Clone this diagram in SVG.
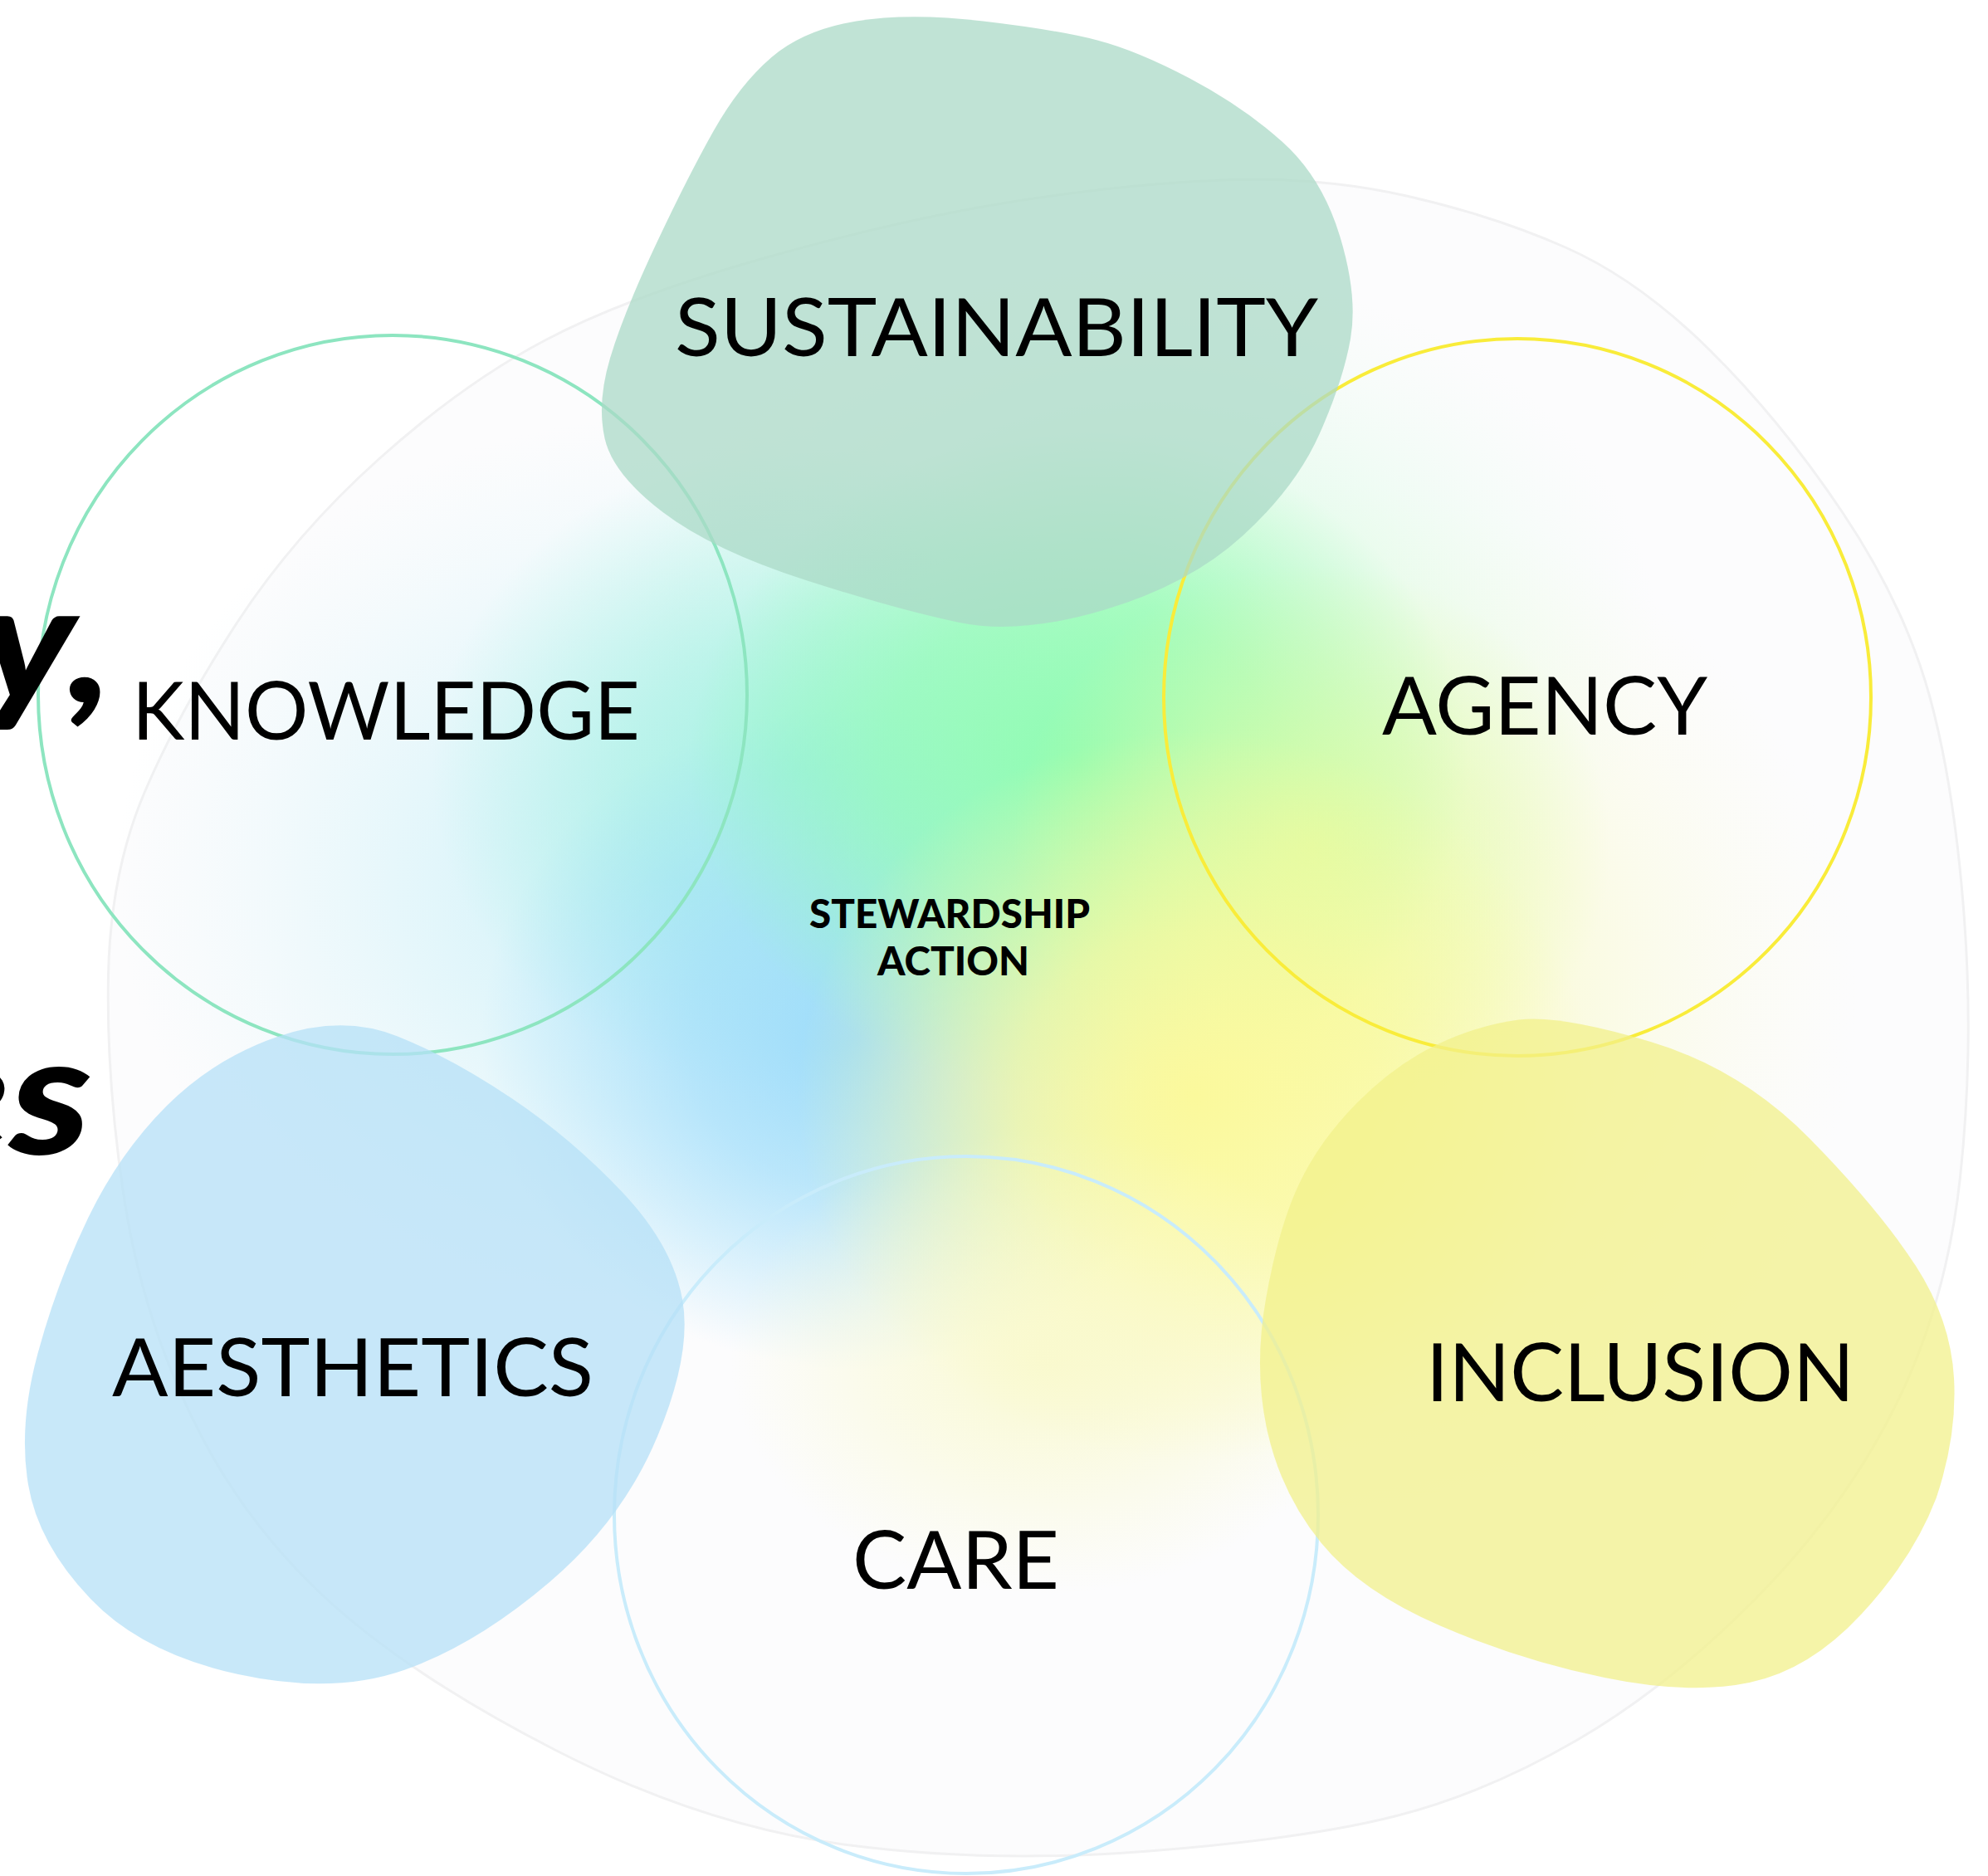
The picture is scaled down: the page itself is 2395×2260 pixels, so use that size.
<svg xmlns="http://www.w3.org/2000/svg" width="2395" height="2260" viewBox="0 0 2395 2260">
<style>
.lbl{font-family:"Lato","Liberation Sans",sans-serif;font-weight:400;font-size:96px;fill:#000}
.ctr{font-family:"Lato","Inter","Liberation Sans",sans-serif;font-weight:900;font-size:48px;fill:#000}
.big{font-family:"Lato","Inter","Liberation Sans",sans-serif;font-weight:900;font-style:italic;font-size:200px;fill:#000}
.ring{fill:none;stroke-width:4}
.blob{opacity:0.75}
</style>
<defs>
<radialGradient id="gSoftC"><stop offset="0" stop-color="#b4ebf6" stop-opacity="0.75"/><stop offset="0.5" stop-color="#c4eff8" stop-opacity="0.4"/><stop offset="1" stop-color="#d8f4fa" stop-opacity="0"/></radialGradient>
<radialGradient id="gSoftY"><stop offset="0" stop-color="#f8f9a8" stop-opacity="0.75"/><stop offset="0.5" stop-color="#f8f9b8" stop-opacity="0.4"/><stop offset="1" stop-color="#fafbd8" stop-opacity="0"/></radialGradient>
<radialGradient id="gSoftG"><stop offset="0" stop-color="#b6fbc8" stop-opacity="0.7"/><stop offset="0.5" stop-color="#c8fbd8" stop-opacity="0.35"/><stop offset="1" stop-color="#e0fbe8" stop-opacity="0"/></radialGradient>
<radialGradient id="gCyan"><stop offset="0" stop-color="#a6f2e2" stop-opacity="1"/><stop offset="0.45" stop-color="#a6f2e2" stop-opacity="0.6"/><stop offset="1" stop-color="#a6f2e2" stop-opacity="0"/></radialGradient>
<radialGradient id="gBlue"><stop offset="0" stop-color="#9ddcfb" stop-opacity="1"/><stop offset="0.45" stop-color="#9ddcfb" stop-opacity="0.65"/><stop offset="1" stop-color="#9ddcfb" stop-opacity="0"/></radialGradient>
<radialGradient id="gGreen"><stop offset="0" stop-color="#8ffcb2" stop-opacity="1"/><stop offset="0.5" stop-color="#8ffcb2" stop-opacity="0.65"/><stop offset="1" stop-color="#8ffcb2" stop-opacity="0"/></radialGradient>
<radialGradient id="gYG"><stop offset="0" stop-color="#e0fca0" stop-opacity="0.9"/><stop offset="1" stop-color="#e0fca0" stop-opacity="0"/></radialGradient>
<radialGradient id="gYellow"><stop offset="0" stop-color="#fbf99c" stop-opacity="1"/><stop offset="0.45" stop-color="#fbf99c" stop-opacity="0.7"/><stop offset="1" stop-color="#fbf99c" stop-opacity="0"/></radialGradient>
<radialGradient id="gPale"><stop offset="0" stop-color="#f9f9cc" stop-opacity="0.9"/><stop offset="1" stop-color="#f9f9cc" stop-opacity="0"/></radialGradient>
</defs>
<rect width="2395" height="2260" fill="#ffffff"/>
<g id="background">
<path d="M 1469.5,217 Q 1589,212 1694.5,236 Q 1800,260 1887,298.5 Q 1974,337 2060,422 Q 2146,507 2220.5,618.5 Q 2295,730 2325,840 Q 2355,950 2366.5,1107.5 Q 2378,1265 2361.5,1418 Q 2345,1571 2282.5,1695.5 Q 2220,1820 2114.5,1926.5 Q 2009,2033 1899.5,2096.5 Q 1790,2160 1682.5,2187.5 Q 1575,2215 1384,2230 Q 1193,2245 1020.5,2222.5 Q 848,2200 669.5,2108.5 Q 491,2017 390.5,1923.5 Q 290,1830 230,1705 Q 170,1580 149,1440 Q 128,1300 130.5,1175 Q 133,1050 175,952.5 Q 217,855 286,749.5 Q 355,644 457,552.5 Q 559,461 658.5,409 Q 758,357 920.5,311 Q 1083,265 1216.5,243.5 Q 1350,222 1469.5,217 Z" fill="#fcfcfd" stroke="#f1f1f2" stroke-width="3"/>
</g>
<g id="center-glow">
<ellipse cx="820" cy="1060" rx="680" ry="560" fill="url(#gSoftC)"/>
<ellipse cx="1560" cy="1200" rx="680" ry="620" fill="url(#gSoftY)"/>
<ellipse cx="1380" cy="780" rx="620" ry="460" fill="url(#gSoftG)"/>
<ellipse cx="960" cy="930" rx="440" ry="390" fill="url(#gCyan)"/>
<ellipse cx="1030" cy="1250" rx="450" ry="400" fill="url(#gBlue)"/>
<ellipse cx="1300" cy="920" rx="470" ry="400" fill="url(#gGreen)"/>
<ellipse cx="1580" cy="1020" rx="360" ry="340" fill="url(#gYG)"/>
<ellipse cx="1440" cy="1320" rx="480" ry="440" fill="url(#gYellow)"/>
<ellipse cx="1260" cy="1640" rx="380" ry="280" fill="url(#gPale)"/>
</g>
<g id="rings">
<ellipse id="ring-knowledge" class="ring" cx="473" cy="837" rx="427" ry="433" stroke="#8de5c0"/>
<ellipse id="ring-agency" class="ring" cx="1828" cy="840" rx="426" ry="432" stroke="#f9ec3a"/>
<ellipse id="ring-care" class="ring" cx="1164" cy="1825" rx="424" ry="432" stroke="#c9ecfb"/>
</g>
<g id="blobs">
<path id="blob-sustainability" class="blob" fill="#abdac7" d="M 1031.5,25.5 Q 1095,15 1184.5,25.5 Q 1274,36 1322,48.5 Q 1370,61 1433.5,94.5 Q 1497,128 1545,171 Q 1593,214 1614.5,285.5 Q 1636,357 1627,408 Q 1618,459 1589.5,523 Q 1561,587 1497,645.5 Q 1433,704 1331,734.5 Q 1229,765 1156,750 Q 1083,735 971,699 Q 859,663 798.5,617 Q 738,571 728.5,528 Q 719,485 735,431.5 Q 751,378 789.5,296 Q 828,214 859.5,158 Q 891,102 929.5,69 Q 968,36 1031.5,25.5 Z"/>
<path id="blob-aesthetics" class="blob" fill="#b5e0f7" d="M 335.5,1248.5 Q 413,1222 479,1248.5 Q 545,1275 617,1323.5 Q 689,1372 749.5,1436 Q 810,1500 822,1565 Q 834,1630 792,1730.5 Q 750,1831 662,1906 Q 574,1981 488,2011.5 Q 402,2042 287,2017 Q 172,1992 109,1926 Q 46,1860 34,1788.5 Q 22,1717 45.5,1630.5 Q 69,1544 106.5,1466.5 Q 144,1389 201,1332 Q 258,1275 335.5,1248.5 Z"/>
<path id="blob-inclusion" class="blob" fill="#f2f08b" d="M 1829.5,1228.5 Q 1879,1222 1988.5,1255 Q 2098,1288 2180.5,1372 Q 2263,1456 2308,1525 Q 2350,1590 2354,1660 Q 2358,1730 2332.5,1805 Q 2305,1877 2242.5,1944.5 Q 2180,2012 2107.5,2027 Q 2035,2042 1933,2021 Q 1831,2000 1735,1958.5 Q 1639,1917 1591.5,1858.5 Q 1544,1800 1527,1725 Q 1510,1650 1525,1565 Q 1540,1480 1564.5,1427.5 Q 1589,1375 1634.5,1329 Q 1680,1283 1730,1259 Q 1780,1235 1829.5,1228.5 Z"/>
</g>
<g id="labels">
<text id="t-sustainability" class="lbl" x="813" y="429" textLength="775" lengthAdjust="spacingAndGlyphs">SUSTAINABILITY</text>
<text id="t-knowledge" class="lbl" x="159" y="891" textLength="612" lengthAdjust="spacingAndGlyphs">KNOWLEDGE</text>
<text id="t-agency" class="lbl" x="1665" y="885" textLength="392" lengthAdjust="spacingAndGlyphs">AGENCY</text>
<text id="t-aesthetics" class="lbl" x="135" y="1682" textLength="580" lengthAdjust="spacingAndGlyphs">AESTHETICS</text>
<text id="t-inclusion" class="lbl" x="1718" y="1688" textLength="516" lengthAdjust="spacingAndGlyphs">INCLUSION</text>
<text id="t-care" class="lbl" x="1027" y="1914" textLength="249" lengthAdjust="spacingAndGlyphs">CARE</text>
<text id="t-steward" class="ctr" x="975" y="1118" textLength="338" lengthAdjust="spacingAndGlyphs">STEWARDSHIP</text>
<text id="t-action" class="ctr" x="1057" y="1175" textLength="183" lengthAdjust="spacingAndGlyphs">ACTION</text>
</g>
<g id="edge-text">
<text class="big" transform="translate(136,846) scale(1.15,1)" x="0" y="0" text-anchor="end">y,</text>
<text class="big" transform="translate(110,1390) scale(1.2,1)" x="0" y="0" text-anchor="end">es</text>
</g>
</svg>
